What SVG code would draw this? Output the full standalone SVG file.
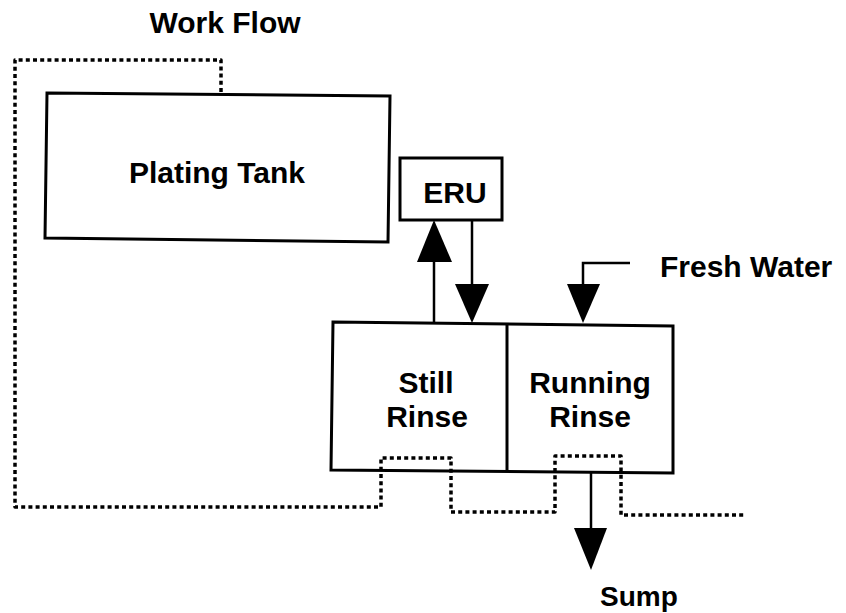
<svg xmlns="http://www.w3.org/2000/svg" width="846" height="613" viewBox="0 0 846 613">
<style>
.box{fill:none;stroke:#000;stroke-width:3;stroke-linejoin:miter}
.lbl{font-family:"Liberation Sans",Arial,sans-serif;font-weight:bold;font-size:30px;fill:#000}
.mid{text-anchor:middle}
.flow{fill:none;stroke:#000;stroke-width:2.5}
.dots{fill:none;stroke:#000;stroke-width:3.5;stroke-dasharray:4 3.2;stroke-linejoin:round}
.head{fill:#000;stroke:none}
</style>
<rect width="846" height="613" fill="#fff"/>
<g id="workflow-label"><text class="lbl mid" x="225" y="33">Work Flow</text></g>
<g id="plating-tank">
<polygon class="box" points="47,93 390,96 388,242 45,238"/>
<text class="lbl mid" x="217" y="183">Plating Tank</text>
</g>
<g id="eru">
<rect class="box" x="400" y="158" width="102" height="62"/>
<text class="lbl mid" x="455" y="203">ERU</text>
</g>
<g id="rinse-tanks">
<polygon class="box" points="333,322 673,326 673,473 331,470"/>
<line class="box" x1="507" y1="324" x2="507" y2="472"/>
</g>
<g id="still-rinse">
<text class="lbl mid" x="426" y="393">Still</text>
<text class="lbl mid" x="427" y="427">Rinse</text>
</g>
<g id="running-rinse">
<text class="lbl mid" x="590" y="393">Running</text>
<text class="lbl mid" x="590" y="427">Rinse</text>
</g>
<g id="fresh-water-label"><text class="lbl" x="660" y="277">Fresh Water</text></g>
<g id="sump-label"><text class="lbl" x="600" y="606" style="font-size:28px">Sump</text></g>
<g id="connectors">
<path class="dots" d="M221,92 V60 H15 V507 H381 V458 H451 V512 H555 V456 H621 V515 H745"/>
<line class="flow" x1="434" y1="323" x2="434" y2="258"/>
<polygon class="head" points="434,220 417,262 452,262"/>
<line class="flow" x1="472" y1="220" x2="472" y2="286"/>
<polygon class="head" points="455,284 489,284 472,323"/>
<polyline class="flow" points="630,263 583,263 583,286"/>
<polygon class="head" points="567,284 600,284 583,323"/>
<line class="flow" x1="591" y1="472" x2="591" y2="530"/>
<polygon class="head" points="574,528 607,528 591,570"/>
</g>
</svg>
